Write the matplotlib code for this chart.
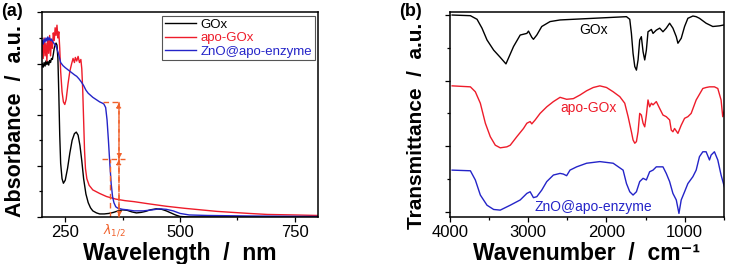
import matplotlib
matplotlib.use('Agg')
import matplotlib.pyplot as plt
from matplotlib.ticker import MultipleLocator

plt.rcParams['font.family'] = ['Liberation Sans', 'DejaVu Sans']

# ---- panel (a): UV-vis absorbance ----
wl_gox = [198, 200, 202, 204, 206, 208, 210, 212, 214, 216, 218, 220, 222, 224, 226, 228,
          230, 232, 234, 236, 238, 240, 243, 246, 250, 255, 260, 265, 270, 274, 278, 282,
          286, 290, 295, 300, 305, 310, 318, 325, 335, 345, 355, 365, 375, 385, 395, 405,
          415, 425, 435, 448, 460, 470, 480, 490, 500, 520, 600, 800]
abs_gox = [2.90, 3.00, 2.93, 3.02, 2.95, 3.05, 2.98, 3.04, 2.97, 3.06, 3.02, 3.10, 3.08, 3.18,
           3.30, 3.36, 3.40, 3.36, 3.10, 2.40, 1.60, 1.05, 0.75, 0.66, 0.72, 0.95, 1.25, 1.50,
           1.63, 1.66, 1.60, 1.40, 1.10, 0.75, 0.45, 0.28, 0.18, 0.12, 0.08, 0.06, 0.06, 0.07,
           0.09, 0.12, 0.14, 0.13, 0.10, 0.08, 0.09, 0.11, 0.14, 0.16, 0.15, 0.12, 0.08, 0.04,
           0.01, 0.0, 0.0, 0.0]

wl_apo = [198, 200, 202, 204, 206, 208, 210, 212, 214, 216, 218, 220, 222, 224, 226, 228,
          230, 232, 234, 236, 238, 240, 243, 246, 249, 252, 256, 260, 264, 267, 270, 272,
          275, 278, 281, 284, 286, 288, 290, 292, 294, 297, 302, 310, 325, 340, 360, 380,
          400, 430, 470, 510, 545, 580, 615, 650, 690, 750, 800]
abs_apo = [3.20, 3.45, 3.10, 3.50, 3.15, 3.40, 3.05, 3.50, 3.20, 3.55, 3.15, 3.45, 3.30, 3.60,
           3.45, 3.70, 3.55, 3.75, 3.50, 3.62, 3.30, 2.85, 2.45, 2.25, 2.20, 2.30, 2.60, 2.85,
           3.00, 3.10, 3.02, 3.12, 3.05, 3.14, 3.02, 3.08, 2.90, 2.50, 1.90, 1.30, 0.95, 0.75,
           0.62, 0.53, 0.46, 0.40, 0.35, 0.32, 0.30, 0.26, 0.21, 0.17, 0.14, 0.11, 0.09, 0.07,
           0.05, 0.04, 0.03]

wl_zno = [198, 200, 202, 204, 206, 208, 210, 212, 214, 216, 218, 220, 222, 225, 230, 235,
          240, 245, 250, 260, 270, 275, 280, 285, 290, 295, 300, 305, 310, 315, 320, 325,
          330, 334, 338, 341, 344, 347, 350, 353, 356, 360, 365, 375, 385, 400, 420, 440,
          455, 470, 485, 500, 520, 560, 650, 800]
abs_zno = [3.40, 3.45, 3.38, 3.48, 3.42, 3.50, 3.44, 3.52, 3.46, 3.50, 3.45, 3.48, 3.44, 3.40,
           3.34, 3.20, 3.02, 2.96, 2.92, 2.85, 2.78, 2.75, 2.70, 2.64, 2.57, 2.48, 2.42, 2.38,
           2.34, 2.31, 2.28, 2.25, 2.23, 2.21, 2.14, 1.90, 1.50, 1.05, 0.65, 0.40, 0.28, 0.20,
           0.17, 0.15, 0.14, 0.12, 0.12, 0.14, 0.16, 0.15, 0.12, 0.07, 0.04, 0.03, 0.02, 0.01]

# half-height construction
lam_half = 367
lam_left = 348
abs_top = 2.24
abs_mid = 1.13

# ---- panel (b): FTIR ----
wn_gox = [3970, 3737, 3652, 3589, 3525, 3440, 3356, 3283, 3186, 3101, 3016, 2995, 2953, 2932,
          2889, 2826, 2720, 2592, 2168, 1744, 1702, 1681, 1660, 1638, 1617, 1596, 1575, 1554,
          1532, 1511, 1490, 1469, 1426, 1405, 1363, 1320, 1278, 1236, 1193, 1151, 1108, 1087,
          1045, 1002, 960, 896, 854, 812, 727, 642, 557, 494]
tr_gox = [6.00, 5.98, 5.87, 5.60, 5.24, 4.93, 4.71, 4.51, 5.04, 5.39, 5.44, 5.51, 5.32, 5.26,
          5.39, 5.65, 5.80, 5.85, 5.90, 5.95, 5.87, 5.44, 4.83, 4.43, 4.32, 4.63, 5.24, 5.34,
          4.88, 4.63, 4.93, 5.49, 5.56, 5.44, 5.54, 5.60, 5.49, 5.60, 5.75, 5.60, 5.34, 5.14,
          5.29, 5.65, 5.90, 5.97, 5.95, 5.90, 5.75, 5.65, 5.67, 5.70]

wn_apo = [3970, 3737, 3674, 3610, 3546, 3483, 3419, 3356, 3271, 3228, 3144, 3059, 3016, 2974,
          2953, 2910, 2847, 2762, 2677, 2592, 2508, 2423, 2338, 2253, 2168, 2084, 1999, 1914,
          1829, 1766, 1723, 1681, 1660, 1638, 1617, 1596, 1575, 1554, 1532, 1511, 1490, 1469,
          1448, 1426, 1405, 1363, 1320, 1278, 1236, 1193, 1172, 1151, 1130, 1087, 1045, 1002,
          960, 918, 854, 769, 727, 684, 621, 578, 536, 515, 494]
tr_apo = [3.84, 3.81, 3.66, 3.31, 2.70, 2.29, 2.03, 1.95, 1.98, 2.03, 2.29, 2.54, 2.70, 2.75,
          2.68, 2.80, 3.00, 3.20, 3.36, 3.49, 3.43, 3.45, 3.56, 3.69, 3.79, 3.84, 3.79, 3.66,
          3.51, 3.31, 2.90, 2.44, 2.19, 2.09, 2.14, 2.44, 3.00, 2.95, 2.70, 2.59, 2.95, 3.41,
          3.20, 3.31, 3.26, 3.36, 3.15, 2.95, 2.90, 2.80, 2.49, 2.44, 2.54, 2.39, 2.64, 2.85,
          2.90, 3.00, 3.41, 3.76, 3.79, 3.81, 3.81, 3.76, 3.41, 2.90, 3.10]

wn_zno = [3970, 3737, 3674, 3610, 3525, 3440, 3356, 3228, 3101, 3016, 2974, 2932, 2889, 2826,
          2762, 2677, 2592, 2550, 2508, 2465, 2380, 2253, 2084, 1914, 1787, 1744, 1702, 1660,
          1617, 1575, 1532, 1490, 1448, 1405, 1363, 1320, 1278, 1236, 1193, 1151, 1108, 1074,
          1045, 1002, 960, 896, 854, 812, 769, 727, 684, 663, 642, 621, 578, 536, 494]
tr_zno = [1.27, 1.25, 0.97, 0.51, 0.20, 0.07, 0.05, 0.20, 0.36, 0.56, 0.61, 0.43, 0.46, 0.66,
          0.92, 1.12, 1.17, 1.15, 1.10, 1.27, 1.37, 1.48, 1.53, 1.48, 1.27, 0.86, 0.61, 0.51,
          0.61, 0.92, 1.02, 0.97, 1.22, 1.27, 1.37, 1.37, 1.37, 1.17, 0.92, 0.56, 0.36, -0.05,
          0.36, 0.61, 0.86, 1.07, 1.27, 1.68, 1.83, 1.83, 1.58, 1.73, 1.78, 1.83, 1.58, 1.12, 0.76]

labels = ['GOx', 'apo-GOx', 'ZnO@apo-enzyme']
colors = ['black', '#ee1c2a', '#2424c8']
orange = '#f0602a'
label_pos = [(2170, 5.55), (2230, 3.16), (2170, 0.15)]

fig = plt.figure(figsize=(7.29, 2.64), dpi=100)
axa = fig.add_axes([0.058, 0.178, 0.378, 0.775])
axb = fig.add_axes([0.617, 0.178, 0.376, 0.775])

for ax in (axa, axb):
    for s in ax.spines.values():
        s.set_linewidth(1.1)
    ax.tick_params(which='major', direction='out', length=3.5, width=0.9, labelsize=12, pad=2)
    ax.tick_params(which='minor', direction='out', length=2, width=0.9)
    ax.tick_params(axis='y', labelleft=False)

# (a)
axa.plot(wl_gox, abs_gox, color=colors[0], lw=1.0, label=labels[0])
axa.plot(wl_apo, abs_apo, color=colors[1], lw=1.0, label=labels[1])
axa.plot(wl_zno, abs_zno, color=colors[2], lw=1.0, label=labels[2])
axa.set_xlim(200, 800)
axa.set_ylim(0, 4)
axa.xaxis.set_major_locator(MultipleLocator(250))
axa.xaxis.set_minor_locator(MultipleLocator(125))
axa.yaxis.set_major_locator(MultipleLocator(1))
axa.yaxis.set_minor_locator(MultipleLocator(0.5))

dash = dict(color=orange, lw=1.0, ls=(0, (4, 2.5)))
axa.plot([332, lam_half], [abs_top, abs_top], **dash)
axa.plot([330, 381], [abs_mid, abs_mid], **dash)
axa.plot([lam_left, lam_left], [0, abs_mid], **dash)
arr = dict(arrowstyle='-|>', color=orange, lw=1.0, ls=(0, (4, 2.5)), mutation_scale=7,
           shrinkA=0, shrinkB=0)
axa.annotate('', xy=(lam_half, abs_top), xytext=(lam_half, abs_mid), arrowprops=arr)
axa.annotate('', xy=(lam_half, abs_mid), xytext=(lam_half, abs_top), arrowprops=arr)
axa.annotate('', xy=(lam_half, 0), xytext=(lam_half, abs_mid), arrowprops=arr)
axa.annotate('', xy=(lam_half, abs_mid), xytext=(lam_half, 0), arrowprops=arr)
axa.text(357, -0.1, r'$\lambda_{1/2}$', color=orange, fontsize=9, ha='center', va='top')

leg = axa.legend(loc='upper right', fontsize=9.5, handlelength=2.4, handletextpad=0.3,
                 borderpad=0.2, labelspacing=0.1, fancybox=False, framealpha=1,
                 borderaxespad=0.25, edgecolor='#555555')
leg.get_frame().set_linewidth(0.8)
for t, c in zip(leg.get_texts(), colors):
    t.set_color(c)

axa.set_xlabel('Wavelength  /  nm', fontsize=16.5, fontweight='bold', labelpad=2)
axa.set_ylabel('Absorbance  /  a.u.', fontsize=15.5, fontweight='bold')
axa.yaxis.set_label_coords(-0.059, 0.47)
fig.text(0.001, 0.99, '(a)', fontsize=13, fontweight='bold', va='top')

# (b)
axb.plot(wn_gox, tr_gox, color=colors[0], lw=1.0)
axb.plot(wn_apo, tr_apo, color=colors[1], lw=1.0)
axb.plot(wn_zno, tr_zno, color=colors[2], lw=1.0)
axb.set_xlim(4000, 500)
axb.set_ylim(-0.16, 6.08)
axb.xaxis.set_major_locator(MultipleLocator(1000))
axb.xaxis.set_minor_locator(MultipleLocator(500))
axb.yaxis.set_major_locator(MultipleLocator(2))
axb.yaxis.set_minor_locator(MultipleLocator(1))
for name, c, (px, py) in zip(labels, colors, label_pos):
    axb.text(px, py, name, color=c, fontsize=10, ha='center', va='center')
axb.set_xlabel('Wavenumber  /  cm\u207b\u00b9', fontsize=16.5, fontweight='bold', labelpad=2)
axb.set_ylabel('Transmittance  /  a.u.', fontsize=15, fontweight='bold')
axb.yaxis.set_label_coords(-0.088, 0.447)
fig.text(0.548, 0.99, '(b)', fontsize=13, fontweight='bold', va='top')

fig.savefig('out.png', dpi=100)
